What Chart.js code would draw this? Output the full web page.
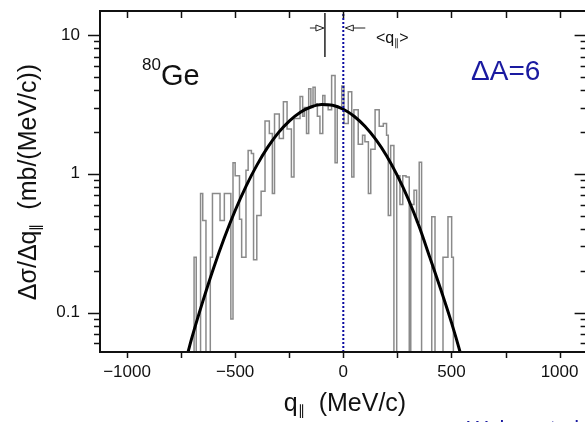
<!DOCTYPE html>
<html lang="en">
<head>
<meta charset="UTF-8">
<title>80Ge q-parallel distribution</title>
<script src="https://cdn.jsdelivr.net/npm/chart.js"></script>
<style>
  html, body { margin: 0; padding: 0; background: #fff; overflow: hidden; }
  #wrap { width: 600px; height: 422px; }
</style>
</head>
<body>
<div id="wrap"><canvas id="myChart" width="600" height="422"></canvas></div>
<script>
// histogram: left bin edges (MeV/c) and contents (mb/(MeV/c)); 0.01 = empty bin
const histEdges = [-720, -690, -680, -660, -650, -635, -615, -605, -570, -550,
  -520, -510, -500, -480, -470, -450, -440, -425, -415, -400,
  -380, -362, -342, -328, -318, -296, -277, -260, -240, -228,
  -200, -188, -180, -170, -160, -150, -140, -130, -120, -108,
  -95, -85, -70, -54, -38, -28, -7, 3, 23, 39,
  49, 69, 89, 100, 116, 127, 147, 166, 185, 200,
  208, 219, 234, 247, 262, 275, 290, 305, 312, 327,
  339, 351, 362, 409, 424, 461, 484, 501, 509, 530];
const histValues = [0.01, 0.25, 0.01, 0.72, 0.46, 0.01, 0.25, 0.72, 0.46, 0.72,
  0.09, 1.2, 0.97, 0.47, 0.25, 1.06, 1.47, 1.4, 0.24, 0.5,
  0.75, 2.4, 1.95, 0.72, 2.7, 1.8, 3.3, 2.1, 0.95, 2.5,
  3.6, 2.6, 3.0, 1.95, 4.1, 3.0, 4.2, 3.2, 2.6, 1.95,
  3.66, 3.1, 2.9, 5.1, 1.2, 3.0, 4.3, 2.3, 3.9, 0.95,
  2.9, 1.63, 1.9, 1.7, 0.72, 1.5, 2.9, 2.2, 2.3, 1.9,
  0.5, 1.6, 0.01, 0.97, 0.6, 0.97, 0.95, 0.01, 0.6, 0.76,
  0.45, 1.21, 0.01, 0.49, 0.01, 0.25, 0.49, 0.25, 0.01];

// fitted gaussian
const fitQ = [-750, -718, -700, -650, -600, -550, -500, -450, -400, -350, -300, -250, -200, -150,
  -100, -50, 0, 50, 100, 150, 200, 250, 300, 350, 400, 450, 500, 540, 575];
const fitValues = [0.034, 0.052, 0.066, 0.120, 0.209, 0.346, 0.544, 0.812, 1.15, 1.55, 1.98, 2.40, 2.77, 3.03,
  3.16, 3.12, 2.92, 2.60, 2.20, 1.77, 1.35, 0.97, 0.66, 0.42, 0.25, 0.148, 0.085, 0.052, 0.032];

const meanQ = -85;
const xTickLabels = [-1000, -500, 0, 500, 1000];
const xTickMarks = [-1000, -750, -500, -250, 0, 250, 500, 750, 1000];
const yTickLabels = [0.1, 1, 10];
const xRange = [-1125, 1125];
const yRange = [0.052, 14.9];

const histData = histEdges.map((e, i) => ({ x: e, y: i < histValues.length ? histValues[i] : histValues[histValues.length - 1] }));
const fitData = fitQ.map((q, i) => ({ x: q, y: fitValues[i] }));

const FONT = "'Liberation Sans', Arial, sans-serif";
const BLUE = '#1a1aa0';

function drawParts(ctx, parts, x, y, align) {
  let w = 0;
  parts.forEach(p => { ctx.font = p[1]; w += ctx.measureText(p[0]).width; });
  let cx = align === 'center' ? x - w / 2 : x;
  parts.forEach(p => {
    ctx.font = p[1];
    ctx.fillText(p[0], cx, y + (p[2] || 0));
    cx += ctx.measureText(p[0]).width;
  });
}

const decor = {
  id: 'decor',
  afterDatasetsDraw(chart) {
    const { ctx, chartArea: a, scales: { x, y } } = chart;
    ctx.save();
    ctx.strokeStyle = '#111';
    ctx.lineCap = 'butt';
    const seg = (x1, y1, x2, y2) => { ctx.beginPath(); ctx.moveTo(x1, y1); ctx.lineTo(x2, y2); ctx.stroke(); };

    // frame
    ctx.lineWidth = 2;
    ctx.strokeRect(a.left, a.top, a.right - a.left, a.bottom - a.top);

    // x tick marks: outward at bottom, inward at top
    ctx.lineWidth = 1.5;
    xTickMarks.forEach(v => {
      const px = Math.round(x.getPixelForValue(v)) + 0.5;
      seg(px, a.bottom, px, a.bottom + 6);
      seg(px, a.top, px, a.top + 7);
    });
    // y tick marks: outward left, inward right
    [0.01, 0.1, 1, 10].forEach(dec => {
      for (let k = 1; k <= 9; k++) {
        const v = dec * k;
        if (v < yRange[0] || v > yRange[1]) continue;
        const py = Math.round(y.getPixelForValue(v)) + 0.5;
        const len = k === 1 ? 12 : 6;
        seg(a.left - len, py, a.left, py);
        seg(a.right - len, py, a.right, py);
      }
    });

    // <q||> marker
    const mx = x.getPixelForValue(meanQ);
    const zx = x.getPixelForValue(0);
    const ay = a.top + 17;
    ctx.lineWidth = 1.5;
    ctx.strokeStyle = '#222';
    seg(mx, a.top + 2, mx, a.top + 46);
    ctx.lineWidth = 1;
    seg(mx - 15, ay, mx - 9, ay);
    ctx.beginPath(); ctx.moveTo(mx - 1, ay); ctx.lineTo(mx - 9, ay - 3); ctx.lineTo(mx - 9, ay + 3); ctx.closePath(); ctx.stroke();
    seg(zx + 10, ay, zx + 22, ay);
    ctx.beginPath(); ctx.moveTo(zx + 2, ay); ctx.lineTo(zx + 10, ay - 3); ctx.lineTo(zx + 10, ay + 3); ctx.closePath(); ctx.stroke();
    ctx.restore();
  },
  afterDraw(chart) {
    const { ctx } = chart;
    ctx.save();
    ctx.fillStyle = '#111';
    ctx.textBaseline = 'alphabetic';

    // axis titles
    drawParts(ctx, [['q', '25px ' + FONT], ['\u2225', '14px ' + FONT, 4], ['  (MeV/c)', '25px ' + FONT]], 345, 411, 'center');
    ctx.save();
    ctx.translate(36, 182);
    ctx.rotate(-Math.PI / 2);
    drawParts(ctx, [['\u0394\u03c3/\u0394q', '25px ' + FONT], ['\u2225', '14px ' + FONT, 4], ['  (mb/(MeV/c))', '25px ' + FONT]], 0, 0, 'center');
    ctx.restore();

    // labels in the plot
    drawParts(ctx, [['80', '17px ' + FONT, -15], ['Ge', '29px ' + FONT]], 142, 85, 'left');
    drawParts(ctx, [['<q', '16px ' + FONT], ['\u2225', '10px ' + FONT, 3], ['>', '16px ' + FONT]], 376, 43, 'left');
    ctx.fillStyle = BLUE;
    ctx.font = '28px ' + FONT;
    ctx.fillText('\u0394A=6', 471, 80);
    // source credit, cut off by the bottom edge
    ctx.textBaseline = 'top';
    ctx.font = '22px ' + FONT;
    ctx.fillText('Weber et al.', 467, 419);
    ctx.restore();
  }
};

const ctx = document.getElementById('myChart').getContext('2d');
const myChart = new Chart(ctx, {
  type: 'line',
  data: {
    datasets: [
      {
        label: 'q=0',
        data: [{ x: 0, y: yRange[0] }, { x: 0, y: yRange[1] }],
        borderColor: '#0a0aa0',
        borderWidth: 2,
        borderDash: [2, 2],
        pointRadius: 0
      },
      {
        label: 'fit',
        data: fitData,
        borderColor: '#000',
        borderWidth: 3,
        pointRadius: 0,
        cubicInterpolationMode: 'monotone'
      },
      {
        label: '80Ge',
        data: histData,
        borderColor: '#8a8a8a',
        borderWidth: 1.5,
        pointRadius: 0,
        stepped: true
      }
    ]
  },
  options: {
    responsive: false,
    animation: false,
    layout: { padding: { left: 0, top: 11, right: 13.4, bottom: 0 } },
    plugins: { legend: { display: false }, tooltip: { enabled: false } },
    scales: {
      x: {
        type: 'linear',
        min: xRange[0],
        max: xRange[1],
        grid: { display: false, drawTicks: false },
        border: { display: false },
        afterBuildTicks: s => { s.ticks = xTickLabels.map(v => ({ value: v })); },
        afterFit: s => { s.height = 70; s.paddingLeft = 0; s.paddingRight = 0; },
        ticks: {
          padding: 10,
          color: '#111',
          maxRotation: 0,
          autoSkip: false,
          font: { family: FONT, size: 17 },
          callback: v => v < 0 ? '\u2212' + Math.abs(v) : String(v)
        }
      },
      y: {
        type: 'logarithmic',
        min: yRange[0],
        max: yRange[1],
        grid: { display: false, drawTicks: false },
        border: { display: false },
        afterBuildTicks: s => { s.ticks = yTickLabels.map(v => ({ value: v })); },
        afterFit: s => { s.width = 100; s.paddingTop = 0; s.paddingBottom = 0; },
        ticks: {
          padding: 20,
          color: '#111',
          autoSkip: false,
          font: { family: FONT, size: 17 },
          callback: v => String(v)
        }
      }
    }
  },
  plugins: [decor]
});
</script>
</body>
</html>
